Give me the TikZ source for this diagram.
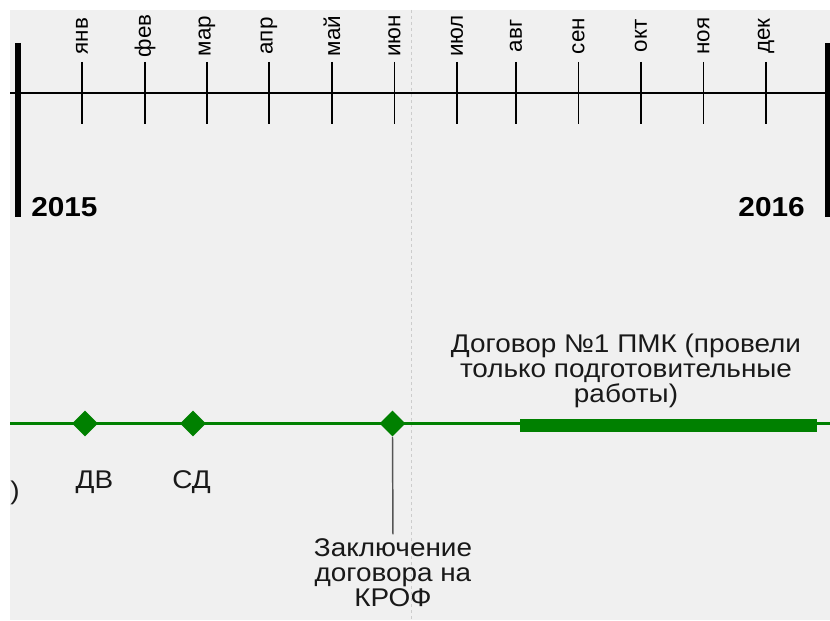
\documentclass[tikz,border=0pt]{standalone}
\usepackage{fontspec}
\setmainfont{Liberation Sans}
\newfontfamily\labelfont[FakeStretch=1.09]{Liberation Sans}
\usetikzlibrary{shapes.geometric}

\definecolor{bggray}{HTML}{F0F0F0}
\definecolor{tlgreen}{HTML}{008000}
\definecolor{guidegray}{HTML}{CCCCCC}
\definecolor{leadgray}{HTML}{555555}

\begin{document}
\begin{tikzpicture}[x=0.75pt,y=-0.75pt,
  month/.style={rotate=90,inner sep=0pt,font=\fontsize{16.8}{18}\selectfont},
  year/.style={inner sep=0pt,font=\labelfont\fontsize{20.5}{22}\selectfont\bfseries},
  event/.style={diamond,fill=tlgreen,inner sep=0pt,minimum size=19.5pt},
  evlabel/.style={inner sep=0pt,align=center,text=black!90,
    font=\labelfont\fontsize{19.2}{18.75}\selectfont}]
  \useasboundingbox (0,0) rectangle (830,620);
  \fill[white] (0,0) rectangle (830,620);
  \fill[bggray] (10,10) rectangle (830,620);

  % mid-year guide
  \draw[guidegray,line width=0.75pt,dash pattern=on 2.25pt off 2.25pt]
    (411.5,10)--(411.5,620);

  % time scale
  \draw[line width=1.1pt] (10,93)--(830,93);
  \foreach \x/\m in {82/янв,145/фев,207/мар,269/апр,332/май,394.5/июн,
                     457/июл,516/авг,578.5/сен,641/окт,703.5/ноя,766/дек}{
    \draw[line width=1.1pt] (\x,62)--(\x,124);
    \node[month] (m\x) at (\x,36) {\m};
  }

  \draw[line width=4.3pt] (18,43)--(18,216.5);
  \draw[line width=4.3pt] (828,43)--(828,216.5);
  \node[year,anchor=base west] (y2015) at (31,216) {2015};
  \node[year,anchor=base east] (y2016) at (805,216) {2016};

  % events
  \draw[tlgreen,line width=2.2pt] (10,423.5)--(830,423.5);
  \draw[tlgreen,line width=9.5pt] (520,425.3)--(817,425.3);

  \node[event] (dv) at (85,423.5) {};
  \node[event] (sd) at (193,423.5) {};
  \node[event] (krof) at (392.5,423.5) {};

  \node[evlabel,anchor=base east] (cut) at (20,499) {)};
  \node[evlabel,anchor=base] (dvTxt) at (94.5,488) {ДВ};
  \node[evlabel,anchor=base] (sdTxt) at (191.5,488) {СД};
  \node[evlabel,anchor=base] (krofTxt) at (393,606.5)
    {Заключение\\договора на\\КРОФ};
  \node[evlabel,anchor=base] (pmkTxt) at (626,402)
    {Договор №1 ПМК (провели\\только подготовительные\\работы)};

  \draw[leadgray,line width=1.1pt,shorten >=3pt] (krof.south)--(krofTxt.north);

\end{tikzpicture}
\end{document}
